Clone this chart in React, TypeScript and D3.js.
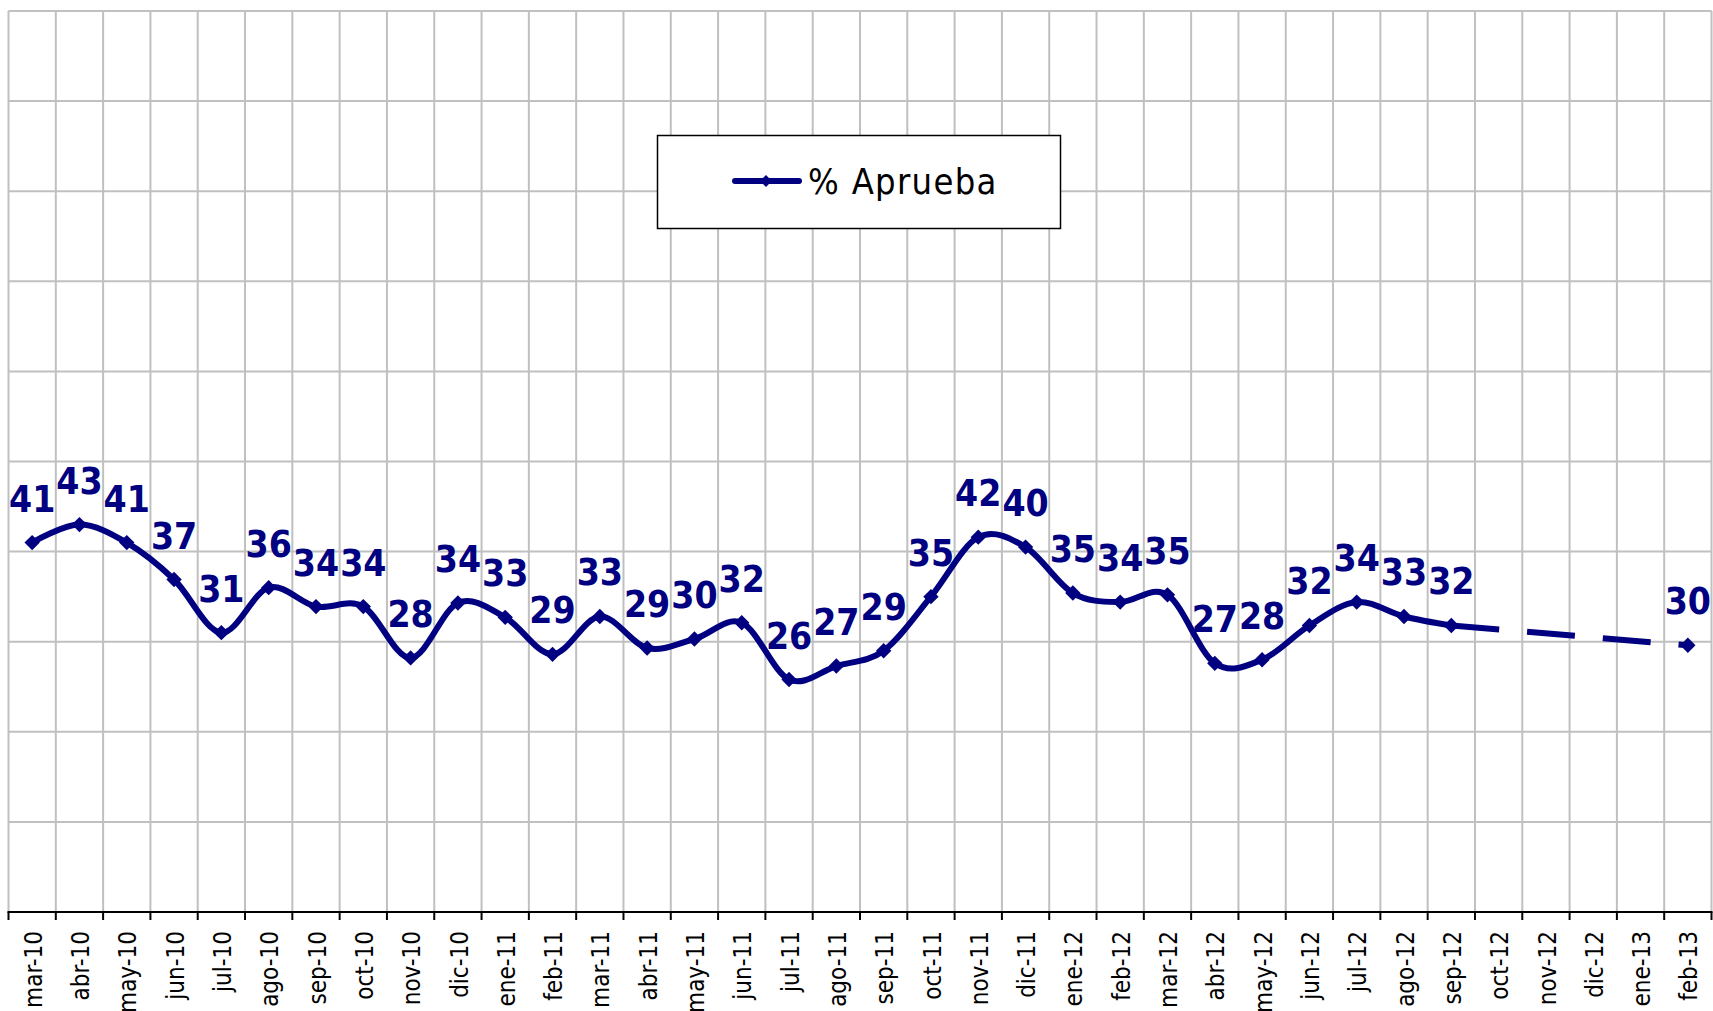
import React from "react";
import * as d3 from "d3";

const categories = [
  "mar-10", "abr-10", "may-10", "jun-10", "jul-10", "ago-10", "sep-10", "oct-10", "nov-10", "dic-10",
  "ene-11", "feb-11", "mar-11", "abr-11", "may-11", "jun-11", "jul-11", "ago-11", "sep-11", "oct-11",
  "nov-11", "dic-11", "ene-12", "feb-12", "mar-12", "abr-12", "may-12", "jun-12", "jul-12", "ago-12",
  "sep-12", "oct-12", "nov-12", "dic-12", "ene-13", "feb-13",
];

const values: (number | null)[] = [
  41.0, 43.0, 41.0, 36.9, 31.0, 36.0, 33.9, 33.9, 28.2, 34.3,
  32.7, 28.6, 32.8, 29.3, 30.3, 32.1, 25.8, 27.3, 29.0, 35.0,
  41.6, 40.5, 35.4, 34.4, 35.2, 27.6, 28.0, 31.8, 34.4, 32.8,
  31.8, null, null, null, null, 29.6,
];

const pointLabels: (string | null)[] = [
  "41", "43", "41", "37", "31", "36", "34", "34", "28", "34",
  "33", "29", "33", "29", "30", "32", "26", "27", "29", "35",
  "42", "40", "35", "34", "35", "27", "28", "32", "34", "33",
  "32", null, null, null, null, "30",
];

const yTicks = [0, 10, 20, 30, 40, 50, 60, 70, 80, 90, 100];
const seriesName = "% Aprueba";

const W = 1713;
const H = 1011;
const left = 8.5;
const right = 1711.5;
const top = 11;
const bottom = 912;
const NAVY = "#000080";
const GRID = "#c0c0c0";
const FONT = "'DejaVu Sans Condensed', 'DejaVu Sans', Tahoma, sans-serif";

export default function App() {
  const x = d3.scaleBand<string>().domain(categories).range([left, right]).padding(0);
  const y = d3.scaleLinear().domain([0, 100]).range([bottom, top]);
  const cx = (c: string) => (x(c) as number) + x.bandwidth() / 2;

  const pts = categories
    .map((c, i) => ({ c, i, v: values[i], label: pointLabels[i] }))
    .filter((d) => d.v !== null) as { c: string; i: number; v: number; label: string | null }[];

  const lastSolid = 30; // sep-12
  const solidPts = pts.filter((d) => d.i <= lastSolid);
  const dashPts = pts.filter((d) => d.i >= lastSolid);

  const smooth = d3
    .line<{ c: string; v: number }>()
    .x((d) => cx(d.c))
    .y((d) => y(d.v))
    .curve(d3.curveCatmullRom.alpha(0));
  const straight = d3
    .line<{ c: string; v: number }>()
    .x((d) => cx(d.c))
    .y((d) => y(d.v));

  const boundaries = [...categories.map((c) => x(c) as number), right];
  const diamond = d3.symbol().type(d3.symbolSquare).size(118)();
  const legendDiamond = d3.symbol().type(d3.symbolSquare).size(70)();

  return (
    <svg
      width={W}
      height={H}
      style={{ position: "absolute", left: 0, top: 0, background: "#fff" }}
    >
      <rect x={0} y={0} width={W} height={H} fill="#fff" />
      {yTicks
        .filter((t) => t !== 0)
        .map((t) => (
          <line key={"h" + t} x1={left} x2={right} y1={y(t)} y2={y(t)} stroke={GRID} strokeWidth={2} />
        ))}
      {boundaries.map((bx, i) => (
        <line key={"v" + i} x1={bx} x2={bx} y1={top} y2={bottom} stroke={GRID} strokeWidth={2} />
      ))}
      <line x1={left - 1} x2={right + 1} y1={y(0)} y2={y(0)} stroke="#000" strokeWidth={2} />
      {boundaries.map((bx, i) => (
        <line key={"t" + i} x1={bx} x2={bx} y1={y(0)} y2={y(0) + 8} stroke="#000" strokeWidth={2} />
      ))}
      {categories.map((c) => (
        <text
          key={"xl" + c}
          transform={`translate(${cx(c)},${y(0) + 19}) rotate(-90)`}
          textAnchor="end"
          dy="0.4em"
          fontFamily={FONT}
          fontSize={24}
          fill="#000"
        >
          {c}
        </text>
      ))}
      <path d={smooth(solidPts) || ""} fill="none" stroke={NAVY} strokeWidth={6} strokeLinejoin="round" strokeLinecap="round" />
      <path d={straight(dashPts) || ""} fill="none" stroke={NAVY} strokeWidth={6} strokeDasharray="48 28" />
      {pts.map((d) => (
        <path
          key={"m" + d.c}
          d={diamond || ""}
          transform={`translate(${cx(d.c)},${y(d.v)}) rotate(45)`}
          fill={NAVY}
        />
      ))}
      {pts.map((d) =>
        d.label ? (
          <text
            key={"dl" + d.c}
            x={cx(d.c)}
            y={y(d.v) - 31}
            textAnchor="middle"
            fontFamily={FONT}
            fontWeight="bold"
            fontSize={37}
            fill={NAVY}
          >
            {d.label}
          </text>
        ) : null
      )}
      <g>
        <rect x={657.5} y={135.5} width={403} height={93} fill="#fff" stroke="#000" strokeWidth={1.5} />
        <line x1={735} x2={799} y1={181} y2={181} stroke={NAVY} strokeWidth={6} strokeLinecap="round" />
        <path d={legendDiamond || ""} transform="translate(766,181) rotate(45)" fill={NAVY} />
        <text x={808} y={194} fontFamily={FONT} fontSize={36} letterSpacing={1.3} fill="#000">
          {seriesName}
        </text>
      </g>
    </svg>
  );
}
